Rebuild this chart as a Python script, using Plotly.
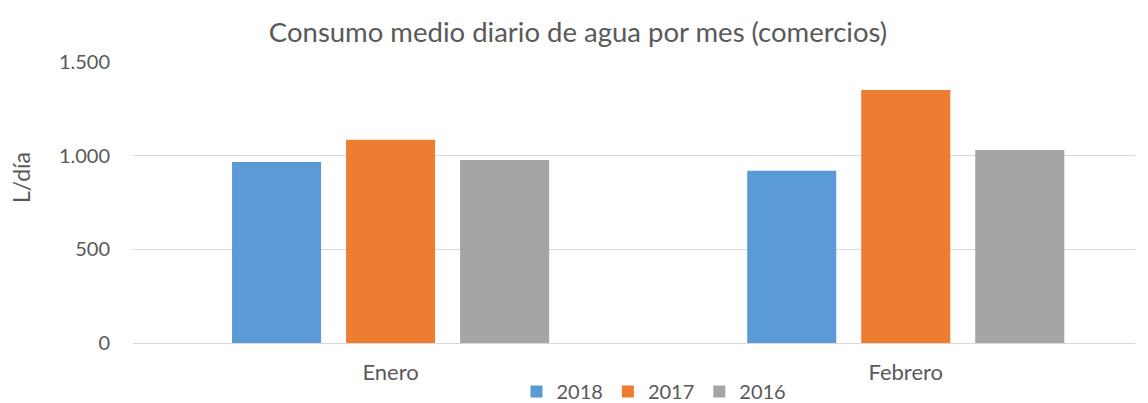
import plotly.graph_objects as go

categories = ["Enero", "Febrero"]
series_names = ["2018", "2017", "2016"]
values_2018 = [966, 919]
values_2017 = [1085, 1351]
values_2016 = [977, 1030]
colors = ["#5B9BD5", "#ED7D31", "#A5A5A5"]
y_ticks = [0, 500, 1000, 1500]
y_tick_labels = ["0", "500", "1.000", "1.500"]

FONT = "Lato"
W, H = 1148, 403
OFF = 8  # page body margin
L, R, T, B = 133 - OFF, W - (1135 - OFF), 62 - OFF, H - (343 - OFF)
pw = W - L - R
ph = H - T - B

fig = go.Figure()
for name, vals, col in zip(series_names, [values_2018, values_2017, values_2016], colors):
    fig.add_trace(go.Bar(x=categories, y=vals, name=name, marker_color=col,
                         marker_line_width=0))

fig.update_layout(
    width=W, height=H,
    margin=dict(l=L, r=R, t=T, b=B, autoexpand=False),
    paper_bgcolor="white", plot_bgcolor="white",
    barmode="group", bargap=0.336, bargroupgap=0.219,
    font=dict(family=FONT, color="#595959", size=20),
    title=dict(text="Consumo medio diario de agua por mes (comercios)",
               x=(578 - OFF) / W, xanchor="center", y=1 - (32 - OFF) / H,
               yanchor="middle",
               font=dict(size=27.5, color="#595959", family=FONT)),
    xaxis=dict(type="category", range=[-0.5, 1.445], showgrid=False,
               showline=True, linecolor="#D9D9D9", linewidth=1, ticks="",
               ticklabelstandoff=10, automargin=False,
               tickfont=dict(size=22, color="#595959")),
    yaxis=dict(range=[0, 1500], tickvals=y_ticks, ticktext=y_tick_labels,
               showgrid=True, gridcolor="#D9D9D9", gridwidth=1, zeroline=False,
               showline=False, ticks="", ticklabelstandoff=22, automargin=False,
               tickfont=dict(size=20, color="#595959")),
    showlegend=True,
    legend=dict(orientation="h", xref="container", yref="container",
                x=(654 - OFF) / W, xanchor="center",
                y=0, yanchor="bottom",
                font=dict(size=20, color="#595959"), itemwidth=30,
                traceorder="normal"),
    annotations=[dict(text="L/día", xref="paper", yref="paper",
                      x=(21 - OFF - L) / pw, y=(343 - 178) / ph, xanchor="center",
                      yanchor="middle", textangle=-90, showarrow=False,
                      font=dict(size=23, color="#595959", family=FONT))],
)

fig.write_html("out.html")
